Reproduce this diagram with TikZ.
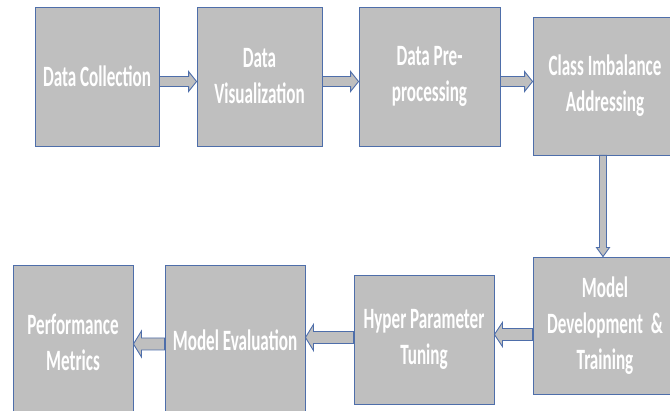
\documentclass[tikz,border=0pt]{standalone}
\usepackage{fontspec}
\setmainfont[FakeStretch=0.58]{Carlito}
\usetikzlibrary{positioning,calc}

\definecolor{boxgray}{RGB}{191,191,191}
\definecolor{edgeblue}{RGB}{78,110,170}

\tikzset{
  stage/.style={draw=edgeblue, fill=boxgray, line width=0.9pt, text=white,
    font=\bfseries\fontsize{29.5}{36}\selectfont, align=center, inner sep=0pt},
  arrowbody/.style={draw=edgeblue, fill=boxgray, line width=0.9pt, line join=miter}
}

% block arrow: start, end, shaft half width, head half width, head length
\newcommand{\blockarr}[5]{%
  \path #1 coordinate (ba-s) #2 coordinate (ba-e);
  \pgfpointdiff{\pgfpointanchor{ba-s}{center}}{\pgfpointanchor{ba-e}{center}}%
  \pgfgetlastxy{\arrdx}{\arrdy}%
  \pgfmathsetmacro\arrang{atan2(\arrdy,\arrdx)}%
  \pgfmathsetmacro\arrlen{veclen(\arrdx,\arrdy)}%
  \begin{scope}[shift={(ba-s)}, rotate=\arrang]
    \draw[arrowbody] (0pt,-#3) -- (\arrlen pt-#5,-#3) -- (\arrlen pt-#5,-#4) -- (\arrlen pt,0pt)
      -- (\arrlen pt-#5,#4) -- (\arrlen pt-#5,#3) -- (0pt,#3) -- cycle;
  \end{scope}
}

\begin{document}
\begin{tikzpicture}[x=1pt, y=-1pt]
  \useasboundingbox (0,0) rectangle (670,411);

  % top row
  \node[stage, minimum width=124, minimum height=139] (coll) at (97,76.5) {Data Collection};
  \node[stage, minimum width=125, minimum height=139] (vis) at (259.5,76.5) {Data\\Visualization};
  \node[stage, minimum width=141, minimum height=139] (prep) at (429.5,76.5) {Data Pre-\\processing};
  \node[stage, minimum width=144, minimum height=138] (imb) at (605,86) {Class Imbalance\\Addressing};

  % bottom row
  \node[stage, minimum width=144, minimum height=137] (dev) at (605,325.5) {Model\\Development\ \ \&\\Training};
  \node[stage, minimum width=140, minimum height=129] (hyp) at (424,339.5) {Hyper Parameter\\Tuning};
  \node[stage, minimum width=140, minimum height=150] (eval) at (235,340) {Model Evaluation};
  \node[stage, minimum width=120, minimum height=154] (perf) at (73,342) {Performance\\Metrics};

  % arrows
  \blockarr{([yshift=-5pt]coll.east)}{([yshift=-5pt]vis.west)}{5pt}{10pt}{8pt}
  \blockarr{([yshift=-5pt]vis.east)}{([yshift=-5pt]prep.west)}{5pt}{10pt}{8pt}
  \blockarr{([yshift=-5pt]prep.east)}{([yshift=-5pt]prep.east -| imb.west)}{5pt}{10pt}{8pt}
  \blockarr{([xshift=-2pt]imb.south)}{([xshift=-2pt]imb.south |- dev.north)}{3.5pt}{6.5pt}{9pt}
  \blockarr{([yshift=-9pt]dev.west)}{([yshift=-9pt]dev.west -| hyp.east)}{6pt}{12pt}{8pt}
  \blockarr{([yshift=2pt]hyp.west)}{([yshift=2pt]hyp.west -| eval.east)}{6pt}{13pt}{8pt}
  \blockarr{([yshift=-4pt]eval.west)}{([yshift=-4pt]eval.west -| perf.east)}{6pt}{13pt}{8pt}
\end{tikzpicture}
\end{document}
